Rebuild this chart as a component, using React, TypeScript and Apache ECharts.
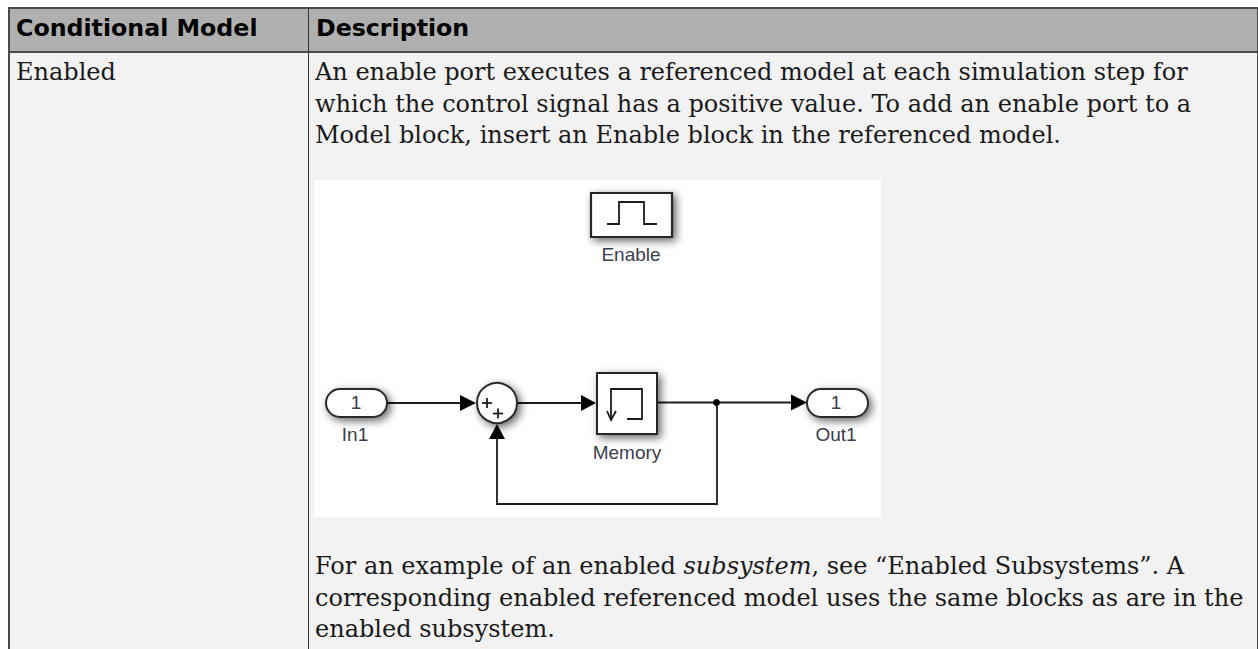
import React, { useEffect, useRef } from "react";
import * as echarts from "echarts";

const headers = ["Conditional Model", "Description"];
const rowLabel = "Enabled";
const introLines = [
  "An enable port executes a referenced model at each simulation step for",
  "which the control signal has a positive value. To add an enable port to a",
  "Model block, insert an Enable block in the referenced model.",
];
const exampleLines = [
  "{n|For an example of an enabled }{i|subsystem}{n|, see “Enabled Subsystems”. A}",
  "{n|corresponding enabled referenced model uses the same blocks as are in the}",
  "{n|enabled subsystem.}",
];
const blockLabels = { enable: "Enable", in1: "In1", out1: "Out1", memory: "Memory" };
const portNumber = "1";

const SERIF = "'DejaVu Serif', serif";
const SANS = "'DejaVu Sans', sans-serif";
const ARIAL = "'Liberation Sans', Arial, sans-serif";
const INK = "#1a1a1a";
const WIRE = "#1c1c1c";
const BORDER = "#4a4a4a";
const BODY_PX = 24;
const shadow = { shadowBlur: 9, shadowOffsetX: 3, shadowOffsetY: 3, shadowColor: "rgba(0,0,0,0.6)" };

const rect = (x: number, y: number, w: number, h: number, fill: string) => ({
  type: "rect", shape: { x, y, width: w, height: h }, style: { fill },
});
const wire = (points: number[][], lineWidth = 1.8) => ({
  type: "polyline", shape: { points }, style: { stroke: WIRE, lineWidth, fill: "none" },
});
const arrow = (points: number[][]) => ({ type: "polygon", shape: { points }, style: { fill: "#000" } });
const label = (text: string, x: number, y: number, fontSize = 19) => ({
  type: "text", x, y,
  style: { text, fill: "#3a3d4c", font: `${fontSize}px ${ARIAL}`, align: "center", verticalAlign: "middle" },
});
const body = (text: string, x: number, y: number) => ({
  type: "text", x, y,
  style: { text, fill: INK, font: `${BODY_PX}px ${SERIF}`, verticalAlign: "middle" },
});
const port = (x: number, y: number, w: number, h: number) => ({
  type: "rect", shape: { x, y, width: w, height: h, r: h / 2 },
  style: { fill: "#fff", stroke: "#2a2a2a", lineWidth: 2, ...shadow },
});
const box = (x: number, y: number, w: number, h: number, lineWidth = 2) => ({
  type: "rect", shape: { x, y, width: w, height: h },
  style: { fill: "#fff", stroke: "#262626", lineWidth, ...shadow },
});

function buildGraphics() {
  const g: any[] = [];
  // table
  g.push(rect(0, 0, 1258, 649, "#ffffff"));
  g.push(rect(9, 8, 1249, 641, "#f2f2f2"));
  g.push(rect(9, 8, 1249, 44, "#b0b0b0"));
  g.push(rect(8, 7, 1250, 2, BORDER));
  g.push(rect(8, 51, 1250, 2, BORDER));
  g.push(rect(8, 7, 2, 642, BORDER));
  g.push(rect(308, 7, 1, 642, "#333333"));
  g.push(rect(1257, 7, 1, 642, BORDER));
  g.push({ type: "text", x: 16, y: 28, style: { text: headers[0], fill: "#000", font: `bold 23.7px ${SANS}`, verticalAlign: "middle" } });
  g.push({ type: "text", x: 316, y: 28, style: { text: headers[1], fill: "#000", font: `bold 23.7px ${SANS}`, verticalAlign: "middle" } });
  g.push(body(rowLabel, 16, 72));
  introLines.forEach((t, i) => g.push(body(t, 315, 72 + i * 31.6)));
  exampleLines.forEach((t, i) =>
    g.push({
      type: "text", x: 315, y: 566 + i * 31.6,
      style: {
        text: t, verticalAlign: "middle",
        rich: {
          n: { fill: INK, font: `${BODY_PX}px ${SERIF}` },
          i: { fill: INK, font: `italic ${BODY_PX}px ${SERIF}` },
        },
      },
    })
  );
  // picture
  g.push(rect(314, 180, 567, 337, "#ffffff"));
  // Enable block
  g.push(box(591, 193, 81, 44, 2.2));
  g.push(wire([[607, 224], [619, 224], [619, 202], [644, 202], [644, 224], [657, 224]], 1.8));
  g.push(label(blockLabels.enable, 631, 254));
  // wires
  g.push(wire([[387, 403], [462, 403]]));
  g.push(wire([[517, 403], [582, 403]]));
  g.push(wire([[657, 402.5], [792, 402.5]]));
  g.push(wire([[717, 402.5], [717, 504], [497, 504], [497, 438]]));
  g.push({ type: "circle", shape: { cx: 716.5, cy: 402.5, r: 3.5 }, style: { fill: "#000" } });
  g.push(arrow([[460, 395], [476, 403], [460, 411]]));
  g.push(arrow([[581, 395], [596, 403], [581, 411]]));
  g.push(arrow([[791, 394.5], [807, 402.5], [791, 410.5]]));
  g.push(arrow([[489, 439], [497, 424], [505, 439]]));
  // In1
  g.push(port(326, 389, 61, 28));
  g.push(label(portNumber, 356, 402));
  g.push(label(blockLabels.in1, 355, 434));
  // Sum
  g.push({
    type: "circle", shape: { cx: 497, cy: 403, r: 20 },
    style: { fill: "#fff", stroke: "#2a2a2a", lineWidth: 2, ...shadow },
  });
  g.push(wire([[482, 403], [492, 403]]));
  g.push(wire([[487, 398], [487, 408]]));
  g.push(wire([[493, 413.5], [503, 413.5]]));
  g.push(wire([[498, 408.5], [498, 418.5]]));
  // Memory
  g.push(box(597, 373, 60, 61));
  g.push(wire([[611, 420], [611, 389], [642, 389], [642, 419], [627, 419]]));
  g.push(wire([[607, 411], [611, 420], [616, 411]]));
  g.push(label(blockLabels.memory, 627, 452));
  // Out1
  g.push(port(807, 389, 61, 28));
  g.push(label(portNumber, 836, 402));
  g.push(label(blockLabels.out1, 836, 434));
  return g;
}

export default function App() {
  const ref = useRef<HTMLDivElement>(null);
  useEffect(() => {
    document.body.style.margin = "0";
    const chart = echarts.init(ref.current!, undefined, { renderer: "svg" });
    chart.setOption({ animation: false, graphic: { elements: buildGraphics() } });
    return () => chart.dispose();
  }, []);
  return <div ref={ref} style={{ width: 1258, height: 649 }} />;
}
